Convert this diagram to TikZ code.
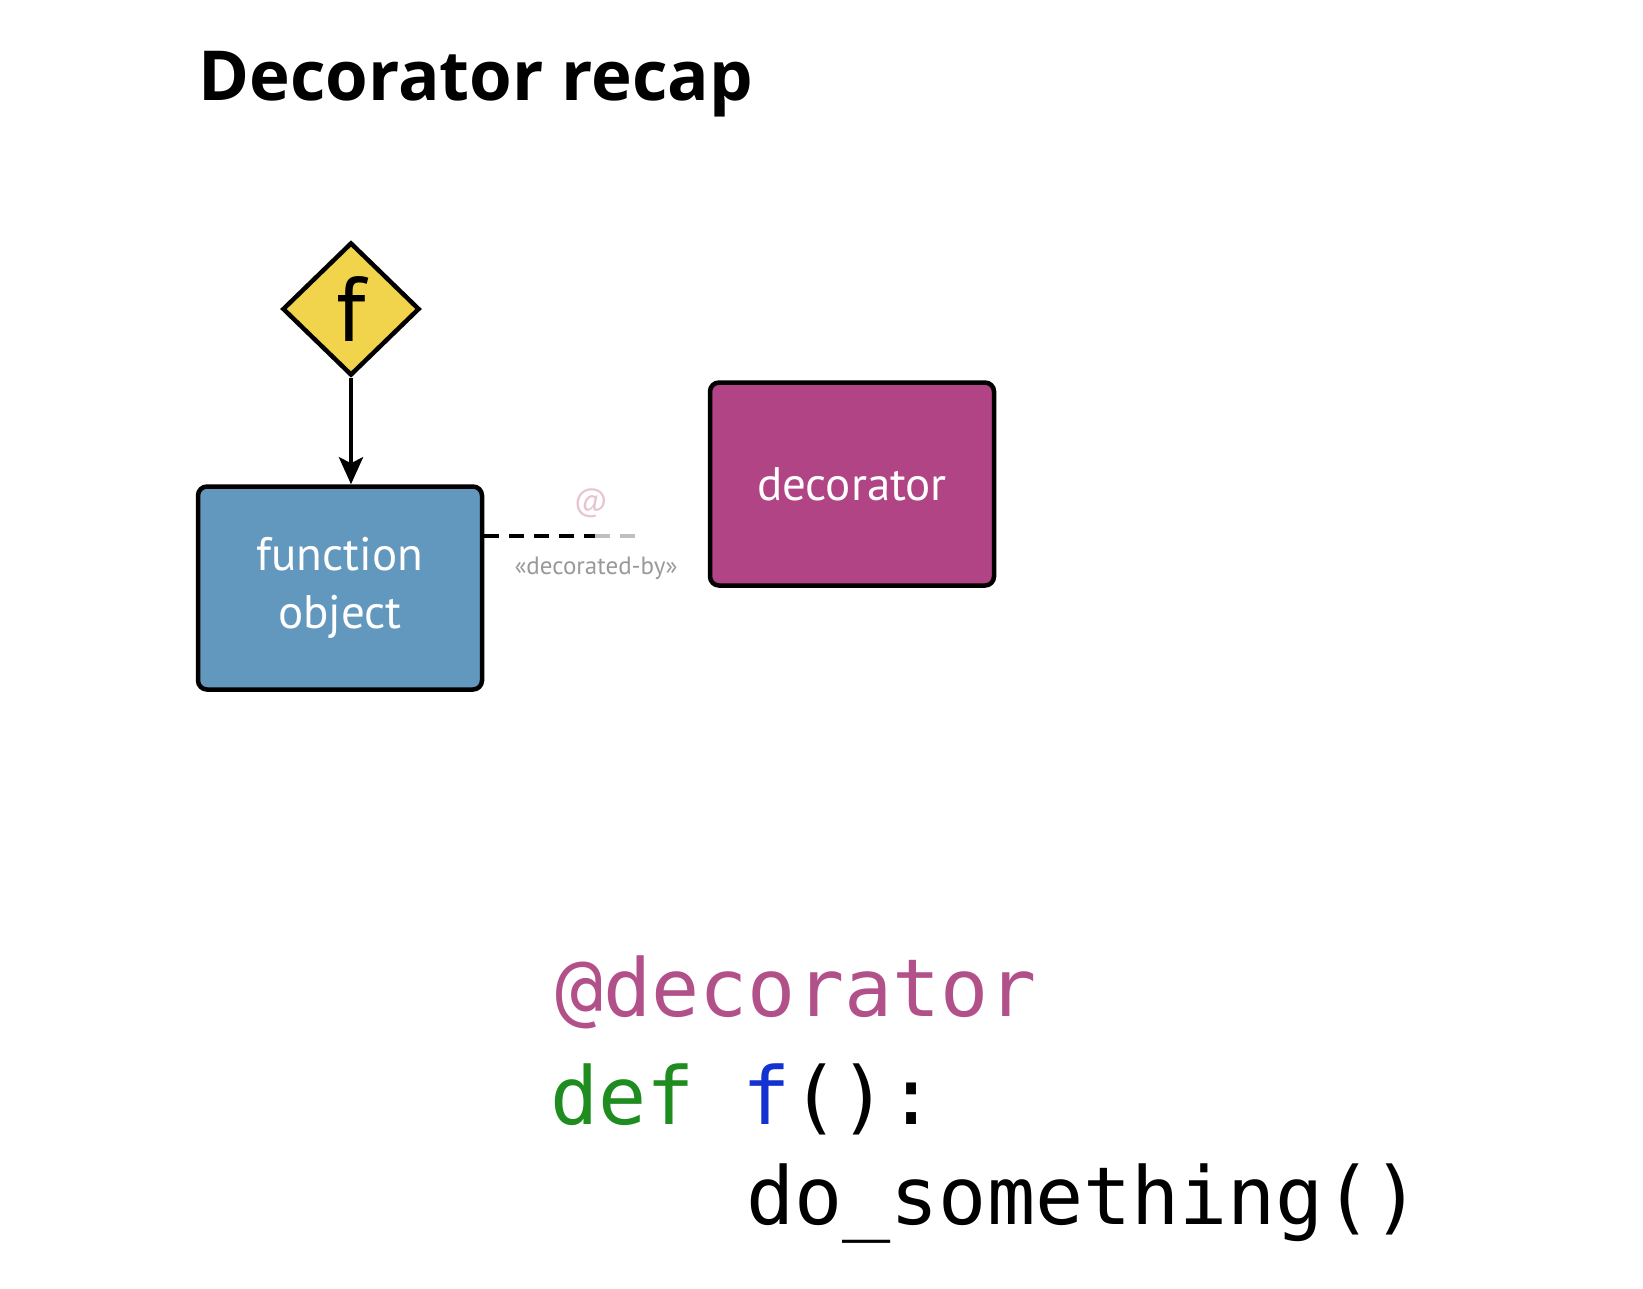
\documentclass[tikz,border=0pt]{standalone}
\usepackage{fontspec}
\setmainfont{PT Sans}
\setmonofont{DejaVu Sans Mono}
\newfontfamily\titlefont{Open Sans}
\usetikzlibrary{shapes.geometric,arrows.meta}

\definecolor{fnblue}{RGB}{98,152,190}
\definecolor{decmagenta}{RGB}{176,68,132}
\definecolor{fyellow}{RGB}{242,212,76}
\definecolor{atpink}{RGB}{232,196,206}
\definecolor{codepink}{RGB}{178,80,138}
\definecolor{codegreen}{RGB}{30,140,30}
\definecolor{codeblue}{RGB}{20,50,210}

\begin{document}
\begin{tikzpicture} [x=1pt, y=-1pt,
 box/.style = {shape=rectangle, rounded corners=9pt, draw, line width=4.5pt,
 minimum width=284pt, minimum height=203pt, align=center, text=white,
 font=\fontsize{47}{58}\selectfont},
 code/.style = {anchor=base west, inner sep=0pt, font=\ttfamily\fontsize{80}{96}\selectfont},
 link/.style = {line width=4.5pt, dash pattern=on 15pt off 10pt}]
 \useasboundingbox (0,0) rectangle (1643,1288);

 \node (title) [anchor=base west, inner sep=0pt, font=\titlefont\bfseries\fontsize{69}{84}\selectfont]
 at (198,100) {Decorator recap};

 \node (fname) [shape=diamond, draw, line width=4.5pt, fill=fyellow, inner sep=0pt,
 minimum width=137pt, minimum height=133pt, font=\fontsize{92}{100}\selectfont]
 at (351,309) {f};

 \node (fobj) [box, fill=fnblue] at (340,588) {function\\object};
 \node (deco) [box, fill=decmagenta] at (852,484) {decorator};

 \path [draw, line width=4.5pt, -{Stealth[length=27pt, width=24pt, inset=6pt]}]
 (fname.south) -- (fname.south |- fobj.north);

 % the dashed link fades out before it reaches the decorator
 \coordinate (fade) at (595,536);
 \coordinate (linkend) at (640,536);
 \draw [link] (fade -| fobj.east) -- (fade);
 \draw [link, black!25] (fade) -- (linkend);
 \node (at) [text=atpink, font=\fontsize{32}{36}\selectfont] at (591,503) {@};
 \node (rel) [text=black!40, font=\fontsize{25}{30}\selectfont] at (596,568) {«decorated-by»};

 \node (line1) [code] at (555,1016) {\textcolor{codepink}{@decorator}};
 \node (line2) [code] at (550,1124) {\textcolor{codegreen}{def} \textcolor{codeblue}{f}():};
 \node (line3) [code] at (746,1224) {do\_something()};
\end{tikzpicture}
\end{document}
